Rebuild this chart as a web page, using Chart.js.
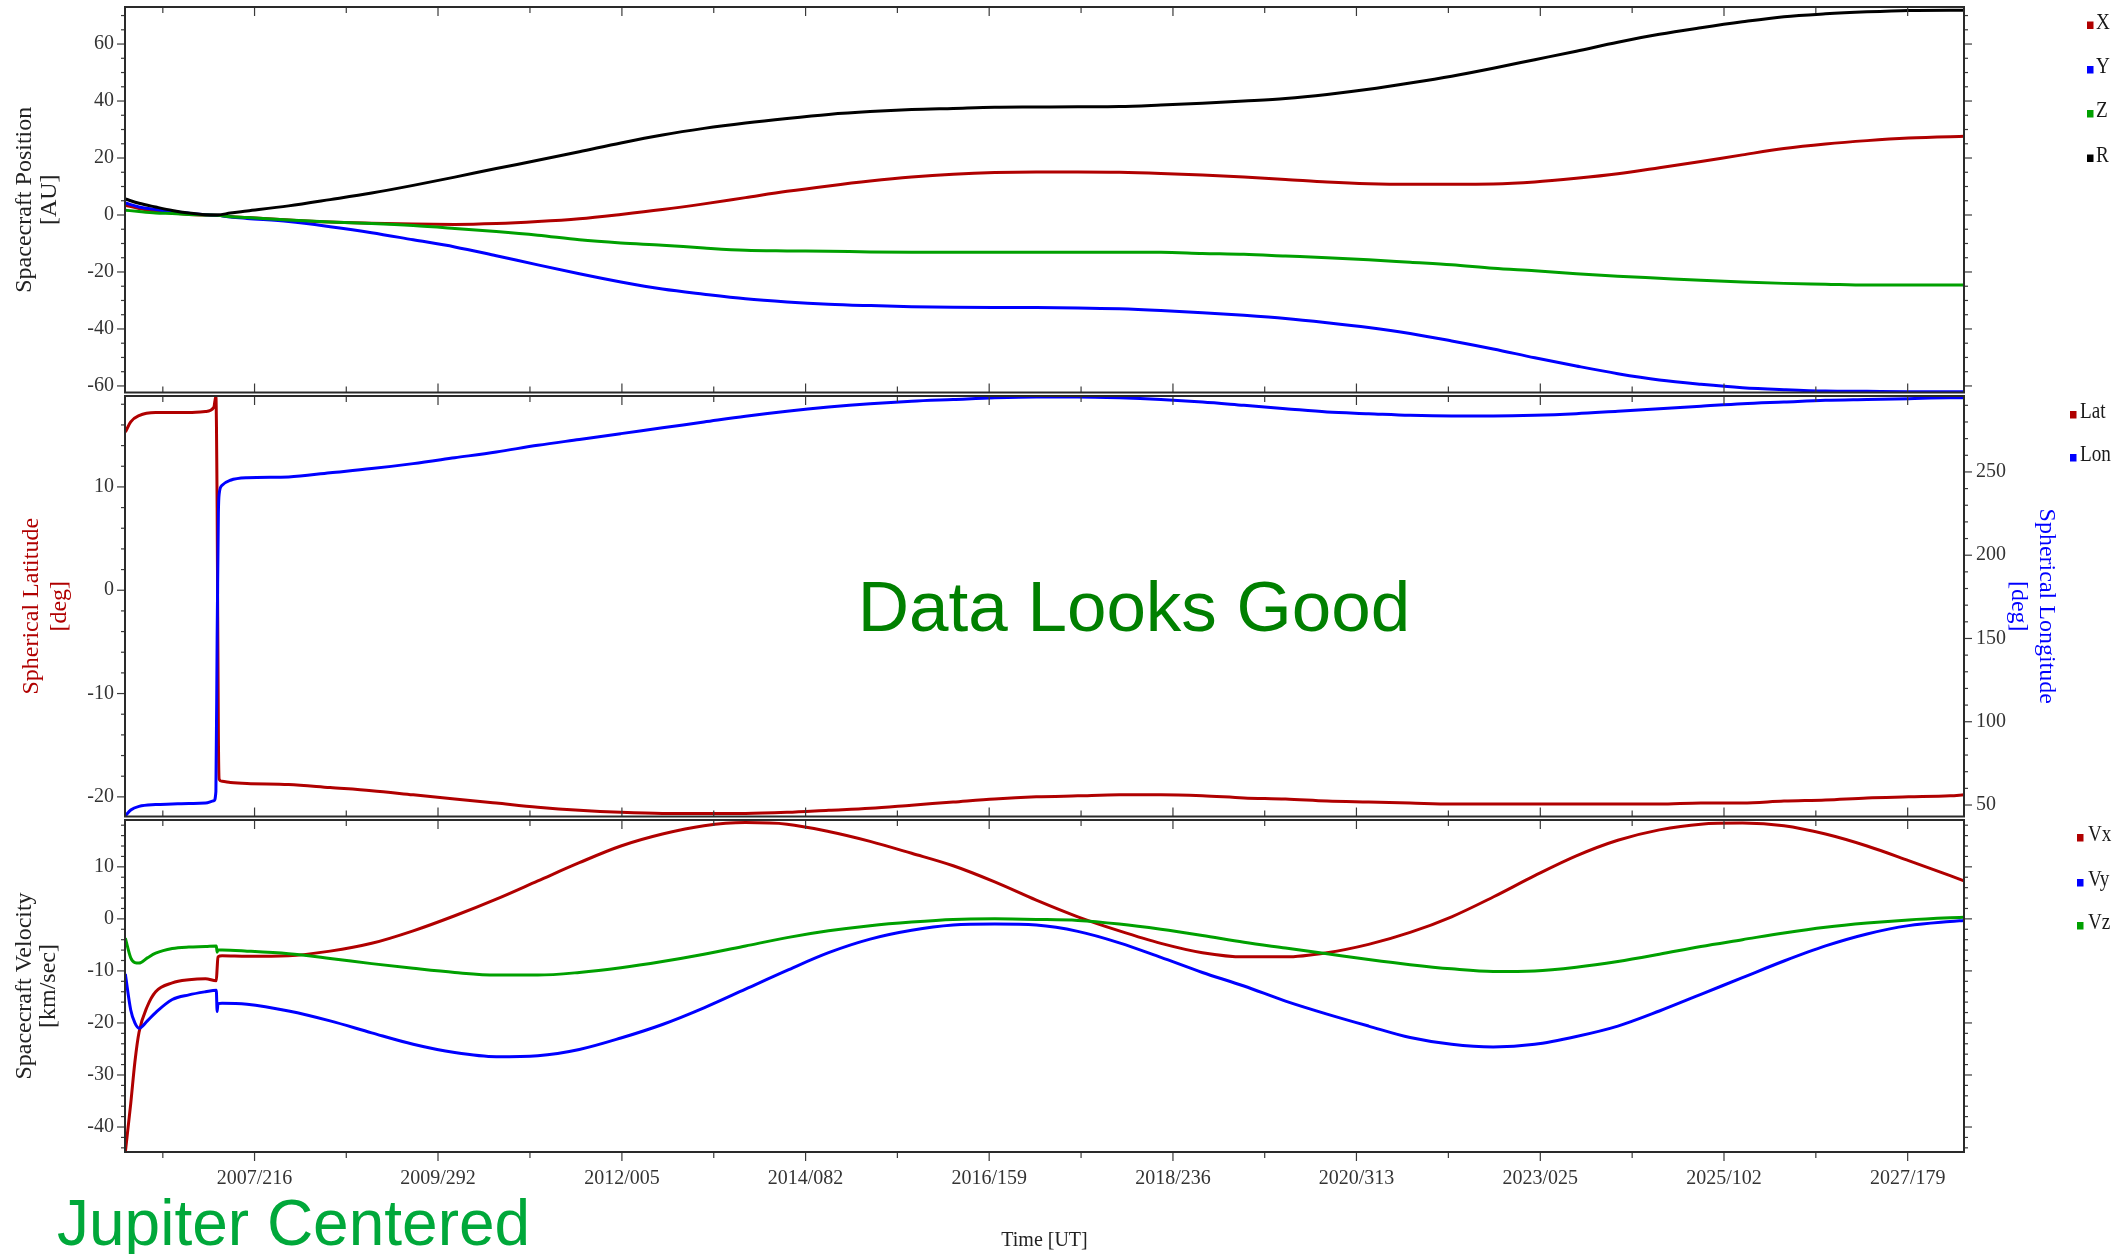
<!DOCTYPE html>
<html>
<head>
<meta charset="utf-8">
<script src="https://cdn.jsdelivr.net/npm/chart.js@4.4.1/dist/chart.umd.min.js"></script>
<style>
  html, body { margin:0; padding:0; background:#ffffff; }
  #wrap { position:relative; width:2117px; height:1254px; overflow:hidden; background:#ffffff; }
  #wrap canvas { position:absolute; left:0; }
</style>
</head>
<body>
<div id="wrap">
  <canvas id="c1" width="2117" height="400" style="top:0px"></canvas>
  <canvas id="c2" width="2117" height="440" style="top:385px"></canvas>
  <canvas id="c3" width="2117" height="442" style="top:812px"></canvas>
</div>
<script>
// ---------------- DATA ----------------
// Time axis tick labels (YYYY/DOY)
const timeTickLabels = ['2007/216','2009/292','2012/005','2014/082','2016/159','2018/236','2020/313','2023/025','2025/102','2027/179'];

// Panel 1: spacecraft position [AU]
const posTimes = [2006.035, 2006.2, 2006.4, 2006.6, 2006.8, 2007.0, 2007.145, 2007.3, 2007.5,
  2008.0, 2008.5, 2009.0, 2009.5, 2010.0, 2010.5, 2011.0, 2011.5, 2012.0, 2012.5, 2013.0, 2013.5, 2014.0, 2014.5, 2015.0, 2015.5, 2016.0, 2016.5,
  2017.0, 2017.5, 2018.0, 2018.5, 2019.0, 2019.5, 2020.0, 2020.5, 2021.0, 2021.5, 2022.0, 2022.5, 2023.0, 2023.5, 2024.0, 2024.5, 2025.0, 2025.5, 2026.0, 2026.5, 2027.0, 2027.5, 2028.0, 2028.167];
const posX = [3.4, 2.3, 1.4, 0.7, 0.2, 0.0, -0.1, -0.5, -0.9,
  -1.8, -2.5, -2.9, -3.2, -3.3, -3.0, -2.3, -1.3, 0.2, 1.9, 3.9, 6.1, 8.3, 10.2, 11.9, 13.3, 14.3, 14.9,
  15.1, 15.1, 15.0, 14.6, 14.0, 13.3, 12.5, 11.6, 11.0, 10.8, 10.8, 10.9, 11.6, 12.9, 14.5, 16.6, 18.8, 21.1, 23.3, 24.9, 26.1, 27.0, 27.5, 27.6];
const posY = [4.2, 2.8, 1.9, 1.2, 0.6, 0.1, -0.1, -0.7, -1.2,
  -2.3, -4.1, -6.2, -8.7, -11.2, -14.3, -17.5, -20.6, -23.5, -26.0, -27.8, -29.4, -30.5, -31.3, -31.8, -32.2, -32.4, -32.5,
  -32.5, -32.6, -32.9, -33.5, -34.3, -35.2, -36.3, -37.8, -39.5, -41.6, -44.2, -47.0, -50.1, -53.0, -55.7, -57.9, -59.4, -60.6, -61.3, -61.8, -61.9, -62.0, -62.0, -62.0];
const posZ = [1.7, 1.2, 0.7, 0.5, 0.2, 0.0, -0.1, -0.6, -0.9,
  -1.8, -2.5, -3.0, -3.7, -4.7, -5.8, -7.1, -8.7, -9.8, -10.6, -11.6, -12.4, -12.6, -12.7, -13.0, -13.1, -13.1, -13.1,
  -13.1, -13.1, -13.1, -13.1, -13.5, -13.8, -14.4, -15.0, -15.7, -16.6, -17.5, -18.7, -19.6, -20.6, -21.5, -22.2, -22.9, -23.5, -24.0, -24.3, -24.6, -24.6, -24.6, -24.6];
const posR = [5.6, 4.1, 2.8, 1.6, 0.7, 0.1, 0.0, 0.7, 1.4,
  3.2, 5.4, 7.7, 10.4, 13.3, 16.3, 19.2, 22.2, 25.3, 28.1, 30.4, 32.3, 33.9, 35.3, 36.3, 37.0, 37.4, 37.8,
  37.9, 38.0, 38.1, 38.6, 39.2, 40.0, 40.9, 42.3, 44.1, 46.3, 48.7, 51.5, 54.5, 57.5, 60.6, 63.4, 65.7, 67.8, 69.6, 70.6, 71.3, 71.8, 71.9, 71.9];
const posTicks = [-60, -40, -20, 0, 20, 40, 60];

// Panel 2: spherical latitude / longitude [deg]
const angTimes = [2006.035, 2006.1, 2006.2, 2006.4, 2006.6, 2006.8, 2007.0, 2007.1, 2007.125, 2007.14, 2007.155, 2007.165, 2007.2, 2007.3, 2007.5,
  2008.0, 2008.5, 2009.0, 2009.5, 2010.0, 2010.5, 2011.0, 2011.5, 2012.0, 2012.5, 2013.0, 2013.5, 2014.0, 2014.5, 2015.0, 2015.5, 2016.0, 2016.5,
  2017.0, 2017.5, 2018.0, 2018.5, 2019.0, 2019.5, 2020.0, 2020.5, 2021.0, 2021.5, 2022.0, 2022.5, 2023.0, 2023.5, 2024.0, 2024.5, 2025.0, 2025.5, 2026.0, 2026.5, 2027.0, 2027.5, 2028.0, 2028.167];
const latVals = [15.3, 16.3, 16.9, 17.2, 17.2, 17.2, 17.3, 17.7, 18.8, 8.0, -14.0, -18.3, -18.5, -18.6, -18.7,
  -18.8, -19.1, -19.4, -19.8, -20.2, -20.6, -21.0, -21.3, -21.5, -21.6, -21.6, -21.6, -21.5, -21.3, -21.1, -20.8, -20.5, -20.2,
  -20.0, -19.9, -19.8, -19.8, -19.9, -20.1, -20.2, -20.4, -20.5, -20.6, -20.7, -20.7, -20.7, -20.7, -20.7, -20.7, -20.6, -20.6, -20.4, -20.3, -20.1, -20.0, -19.9, -19.8];
const lonVals = [43.5, 47.0, 49.2, 50.3, 50.6, 50.9, 51.2, 52.5, 58.0, 150.0, 225.0, 237.0, 242.0, 245.0, 246.5,
  247.0, 249.5, 252.0, 255.0, 258.5, 262.0, 266.0, 269.5, 273.0, 276.5, 280.0, 283.5, 286.5, 289.0, 291.0, 292.5, 293.5, 294.5,
  295.0, 295.0, 294.5, 293.5, 292.0, 290.0, 288.0, 286.0, 285.0, 284.0, 283.6, 283.6, 284.0, 285.0, 286.5, 288.0, 289.5, 291.0, 292.0, 293.0, 293.5, 294.0, 294.5, 294.5];
const latTicks = [-20, -10, 0, 10];
const lonTicks = [50, 100, 150, 200, 250];

// Panel 3: spacecraft velocity [km/sec]
const velTimes = [2006.035, 2006.1, 2006.15, 2006.2, 2006.3, 2006.4, 2006.6, 2006.8, 2007.0, 2007.13, 2007.14, 2007.15, 2007.2, 2007.5,
  2008.0, 2008.5, 2009.0, 2009.5, 2010.0, 2010.5, 2011.0, 2011.5, 2012.0, 2012.5, 2013.0, 2013.5, 2014.0, 2014.5, 2015.0, 2015.5, 2016.0, 2016.5,
  2017.0, 2017.5, 2018.0, 2018.5, 2019.0, 2019.5, 2020.0, 2020.5, 2021.0, 2021.5, 2022.0, 2022.5, 2023.0, 2023.5, 2024.0, 2024.5, 2025.0, 2025.5, 2026.0, 2026.5, 2027.0, 2027.5, 2028.0, 2028.167];
const velX = [-44.8, -35.5, -27.5, -21.8, -16.8, -14.0, -12.3, -11.7, -11.5, -11.9, -9.5, -7.3, -7.1, -7.2,
  -7.1, -6.2, -4.7, -2.3, 0.6, 3.8, 7.3, 10.8, 14.0, 16.3, 17.9, 18.5, 18.2, 16.8, 14.9, 12.6, 10.2, 7.1,
  3.6, 0.4, -2.3, -4.7, -6.5, -7.3, -7.3, -6.5, -4.9, -2.6, 0.4, 4.2, 8.3, 12.1, 15.1, 17.1, 18.2, 18.4, 17.9, 16.3, 14.0, 11.2, 8.3, 7.3];
const velY = [-10.6, -17.5, -20.0, -21.0, -19.6, -18.0, -15.5, -14.6, -14.0, -13.7, -17.8, -16.3, -16.2, -16.4,
  -17.7, -19.6, -21.9, -24.1, -25.7, -26.5, -26.3, -25.1, -22.9, -20.3, -17.1, -13.5, -9.9, -6.5, -3.9, -2.2, -1.2, -1.0,
  -1.2, -2.4, -4.6, -7.4, -10.3, -12.9, -15.8, -18.3, -20.6, -22.8, -24.1, -24.6, -24.1, -22.6, -20.6, -17.7, -14.5, -11.3, -8.1, -5.2, -2.9, -1.3, -0.5, -0.3];
const velZ = [-3.7, -7.5, -8.4, -8.5, -7.5, -6.6, -5.7, -5.4, -5.3, -5.2, -6.4, -6.0, -6.0, -6.2,
  -6.7, -7.6, -8.6, -9.5, -10.3, -10.8, -10.8, -10.3, -9.4, -8.2, -6.8, -5.2, -3.6, -2.3, -1.3, -0.6, -0.1, 0.0,
  -0.1, -0.3, -1.0, -2.0, -3.2, -4.5, -5.6, -6.7, -7.8, -8.8, -9.6, -10.1, -10.0, -9.3, -8.2, -6.8, -5.3, -4.0, -2.7, -1.6, -0.8, -0.2, 0.2, 0.3];
const velTicks = [-40, -30, -20, -10, 0, 10];

// ---------------- STYLE / HELPERS ----------------
const RED = '#b00000', BLUE = '#0000ff', GREEN = '#00a000', BLACK = '#000000';
const SERIF = '"Liberation Serif", "Times New Roman", serif';
const SANS = '"Liberation Sans", Arial, sans-serif';
const X_MIN = 2006.031, X_MAX = 2028.167;

function tickValue(lbl) {
  const parts = lbl.split('/').map(Number);
  const y = parts[0], d = parts[1];
  const n = (y % 4 === 0) ? 366 : 365;
  return y + (d - 0.5) / n;
}
const majorTickValues = timeTickLabels.map(tickValue);
const minorTickValues = [];
majorTickValues.forEach((v, i) => {
  const step = i < majorTickValues.length - 1 ? majorTickValues[i + 1] - v : v - majorTickValues[i - 1];
  if (i === 0) minorTickValues.push(v - step / 2);
  minorTickValues.push(v + step / 2);
});

Chart.defaults.font.family = SERIF;

function series(label, times, vals, color, order, axis) {
  return {
    label, data: times.map((t, i) => ({ x: t, y: vals[i] })),
    borderColor: color, backgroundColor: color, borderWidth: 3,
    pointRadius: 0, pointHoverRadius: 0, cubicInterpolationMode: 'monotone',
    fill: false, order, yAxisID: axis || 'y'
  };
}

function noPad(sc) { sc.paddingTop = 0; sc.paddingBottom = 0; sc.paddingLeft = 0; sc.paddingRight = 0; }

function xScale(show) {
  return {
    type: 'linear', position: 'bottom', min: X_MIN, max: X_MAX, display: show,
    afterBuildTicks: sc => { sc.ticks = majorTickValues.map(v => ({ value: v })); },
    afterFit: sc => { if (show) sc.height = 102; noPad(sc); },
    ticks: { autoSkip: false, maxRotation: 0, minRotation: 0, padding: 15, color: '#333',
      font: { family: SERIF, size: 20 }, callback: (v, i) => timeTickLabels[i] },
    grid: { display: false, drawTicks: false },
    border: { display: false },
    title: { display: show, text: 'Time [UT]', color: '#222', font: { family: SERIF, size: 20, lineHeight: 1.2 }, padding: { top: 0, bottom: 1 } }
  };
}

function yScale(o) {
  return {
    type: 'linear', position: o.pos, min: o.min, max: o.max,
    afterBuildTicks: sc => { sc.ticks = o.ticks.map(v => ({ value: v })); },
    afterFit: sc => { sc.width = o.width; noPad(sc); },
    ticks: { padding: o.pad, color: '#333', font: { family: SERIF, size: 20 }, callback: v => String(v) },
    grid: { display: false, drawTicks: false },
    border: { display: false },
    title: { display: true, text: o.title, color: o.titleColor,
      font: { family: SERIF, size: 24, lineHeight: o.lh }, padding: { top: o.tpad, bottom: 0 } }
  };
}

const deco = {
  id: 'deco',
  afterDraw(chart, args, o) {
    const ctx = chart.ctx, a = chart.chartArea, xs = chart.scales.x;
    ctx.save();
    const line = (x1, y1, x2, y2) => { ctx.beginPath(); ctx.moveTo(x1, y1); ctx.lineTo(x2, y2); ctx.stroke(); };
    ctx.strokeStyle = '#3a3a3a'; ctx.lineWidth = 1.2;
    const xt = majorTickValues.map(v => [v, true]).concat(minorTickValues.map(v => [v, false]));
    xt.forEach(([v, maj]) => {
      const px = xs.getPixelForValue(v);
      if (px < a.left + 1 || px > a.right - 1) return;
      const L = maj ? 9 : 6;
      line(px, a.top, px, a.top + L);
      if (o.bottomOut) line(px, a.bottom, px, a.bottom + L);
      else line(px, a.bottom, px, a.bottom - L);
    });
    [['left', -1], ['right', 1]].forEach(([side, dir]) => {
      const c = o[side]; if (!c) return;
      const s = chart.scales[c.scale];
      const x0 = side === 'left' ? a.left : a.right;
      const start = Math.ceil(s.min / c.minor) * c.minor;
      for (let v = start; v <= s.max + 1e-9; v += c.minor) {
        const vv = Math.round(v * 1000) / 1000;
        const maj = c.major.some(m => Math.abs(m - vv) < 1e-6);
        const py = s.getPixelForValue(vv);
        line(x0, py, x0 + dir * (maj ? 8 : 4), py);
      }
    });
    ctx.strokeStyle = '#2a2a2a'; ctx.lineWidth = 2;
    ctx.strokeRect(a.left, a.top, a.right - a.left, a.bottom - a.top);
    if (o.legend) {
      const L = o.legend;
      L.items.forEach(it => {
        const by = it.y - o.pageTop;
        ctx.fillStyle = it.color;
        ctx.fillRect(L.sqX, by - 7, 6.5, 7.5);
        ctx.save();
        ctx.translate(L.textX, by);
        ctx.scale(0.8, 1);
        ctx.fillStyle = '#1a1a1a';
        ctx.font = '24px ' + SERIF;
        ctx.textBaseline = 'alphabetic';
        ctx.textAlign = 'left';
        ctx.fillText(it.text, 0, 0);
        ctx.restore();
      });
    }
    (o.texts || []).forEach(t => {
      ctx.save();
      ctx.fillStyle = t.color;
      ctx.font = t.font;
      ctx.textAlign = t.align;
      ctx.textBaseline = 'alphabetic';
      ctx.fillText(t.text, t.x, t.y - o.pageTop);
      ctx.restore();
    });
    ctx.restore();
  }
};

function makeChart(id, datasets, scales, padding, decoOpts) {
  return new Chart(document.getElementById(id), {
    type: 'line',
    data: { datasets },
    options: {
      responsive: false, animation: false, devicePixelRatio: 1, events: [],
      parsing: false,
      layout: { padding },
      plugins: { legend: { display: false }, tooltip: { enabled: false }, deco: decoOpts },
      scales
    },
    plugins: [deco]
  });
}

// ---------------- PANEL 1 ----------------
makeChart('c1', [
  series('X', posTimes, posX, RED, 3),
  series('Y', posTimes, posY, BLUE, 2),
  series('Z', posTimes, posZ, GREEN, 1),
  series('R', posTimes, posR, BLACK, 0)
], {
  x: xScale(false),
  y: yScale({ pos: 'left', min: -62.3, max: 73.0, ticks: posTicks, width: 125, pad: 11,
    title: ['Spacecraft Position', '[AU]'], titleColor: '#222', lh: 1.04, tpad: 12.5 })
}, { top: 7, bottom: 7.5, left: 0, right: 153 }, {
  pageTop: 0, bottomOut: false,
  left: { scale: 'y', major: posTicks, minor: 5 },
  right: { scale: 'y', major: posTicks, minor: 5 },
  legend: { sqX: 2087, textX: 2096, items: [
    { text: 'X', color: RED, y: 28.5 }, { text: 'Y', color: BLUE, y: 73 },
    { text: 'Z', color: GREEN, y: 117 }, { text: 'R', color: BLACK, y: 161.5 } ] }
});

// ---------------- PANEL 2 ----------------
makeChart('c2', [
  series('Lat', angTimes, latVals, RED, 1, 'y'),
  series('Lon', angTimes, lonVals, BLUE, 0, 'y2')
], {
  x: xScale(false),
  y: yScale({ pos: 'left', min: -21.9, max: 18.8, ticks: latTicks, width: 125, pad: 11,
    title: ['Spherical Latitude', '[deg]'], titleColor: RED, lh: 1.18, tpad: 17.5 }),
  y2: yScale({ pos: 'right', min: 43.1, max: 295.6, ticks: lonTicks, width: 153, pad: 12,
    title: ['Spherical Longitude', '[deg]'], titleColor: BLUE, lh: 1.2, tpad: 56 })
}, { top: 11, bottom: 8.5, left: 0, right: 0 }, {
  pageTop: 385, bottomOut: false,
  left: { scale: 'y', major: latTicks, minor: 2 },
  right: { scale: 'y2', major: lonTicks, minor: 10 },
  legend: { sqX: 2070, textX: 2080, items: [
    { text: 'Lat', color: RED, y: 418 }, { text: 'Lon', color: BLUE, y: 461 } ] },
  texts: [ { text: 'Data Looks Good', color: '#008000', font: '71px ' + SANS, align: 'center', x: 1134, y: 631 } ]
});

// ---------------- PANEL 3 ----------------
makeChart('c3', [
  series('Vx', velTimes, velX, RED, 2),
  series('Vy', velTimes, velY, BLUE, 1),
  series('Vz', velTimes, velZ, GREEN, 0)
], {
  x: xScale(true),
  y: yScale({ pos: 'left', min: -44.8, max: 19.0, ticks: velTicks, width: 125, pad: 11,
    title: ['Spacecraft Velocity', '[km/sec]'], titleColor: '#222', lh: 0.97, tpad: 13.3 })
}, { top: 8, bottom: 0, left: 0, right: 153 }, {
  pageTop: 812, bottomOut: true,
  left: { scale: 'y', major: velTicks, minor: 2 },
  right: { scale: 'y', major: velTicks, minor: 2 },
  legend: { sqX: 2077, textX: 2088, items: [
    { text: 'Vx', color: RED, y: 841 }, { text: 'Vy', color: BLUE, y: 886 }, { text: 'Vz', color: GREEN, y: 929 } ] },
  texts: [ { text: 'Jupiter Centered', color: '#00a83a', font: '64px ' + SANS, align: 'left', x: 57, y: 1245 } ]
});
</script>
</body>
</html>
